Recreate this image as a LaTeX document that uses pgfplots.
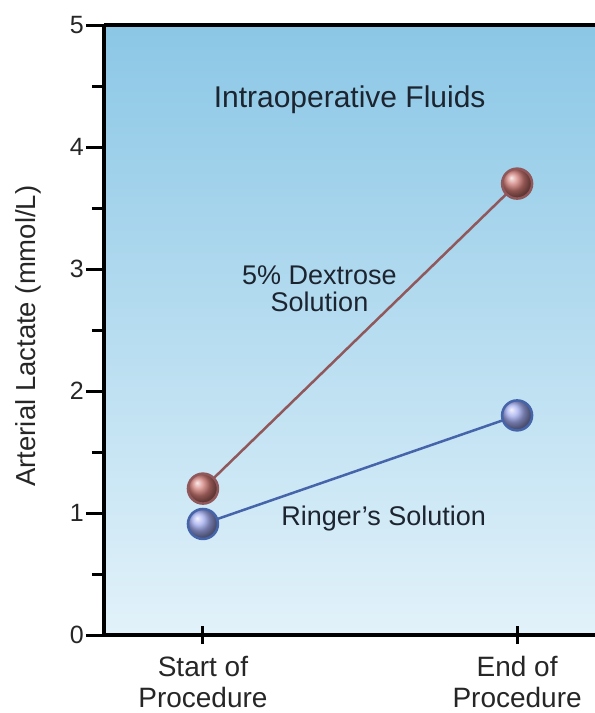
\documentclass[border=0pt]{standalone}
\usepackage{pgfplots}
\pgfplotsset{compat=1.18}
\usepackage{fontspec}
\setmainfont{Liberation Sans}
\definecolor{bgtop}{RGB}{139,199,230}
\definecolor{bgbot}{RGB}{226,242,250}
\definecolor{dexline}{RGB}{145,88,92}
\definecolor{dexball}{RGB}{205,120,115}
\definecolor{ringline}{RGB}{70,100,170}
\definecolor{ringball}{RGB}{160,170,238}
\definecolor{txt}{RGB}{28,36,48}
\begin{document}
\begin{tikzpicture}[x=1pt,y=1pt]
\path[use as bounding box] (0,0) rectangle (595,713);
\begin{axis}[
  at={(104pt,78pt)}, anchor=south west,
  scale only axis, width=491pt, height=610pt,
  xmin=-0.315, xmax=1.248, ymin=0, ymax=5,
  axis x line=box, axis y line=left,
  xtick pos=bottom,
  axis line style={line width=4pt, -},
  axis background/.style={top color=bgtop, bottom color=bgbot},
  xtick={0,1},
  xticklabels={{Start of\\Procedure},{End of\\Procedure}},
  ytick={0,1,2,3,4,5},
  minor y tick num=1,
  major tick length=18pt, minor tick length=12pt,
  tick style={line width=3pt, black},
  ytick align=outside, xtick align=center,
  /pgf/number format/assume math mode=true,
  yticklabel style={font=\fontsize{25}{30}\selectfont, text=black!85, inner sep=2pt},
  xticklabel style={font=\fontsize{28}{31}\selectfont, text=black!85, align=center, inner sep=2pt, yshift=-10pt},
  ylabel={Arterial Lactate (mmol/L)},
  ylabel style={font=\fontsize{27.5}{30}\selectfont, text=black!85, at={(rel axis cs:-0.155,0.49)}, anchor=center},
  clip=false,
]
\addplot[color=dexline, line width=2.5pt, mark=ball, mark size=15pt, mark options={ball color=dexball}]
  coordinates {(0,1.20) (1,3.70)};
\addplot[color=ringline, line width=2.5pt, mark=ball, mark size=15pt, mark options={ball color=ringball}]
  coordinates {(0,0.91) (1,1.80)};
\node[font=\fontsize{30}{34}\selectfont, text=txt] at (axis cs:0.467,4.385) {Intraoperative Fluids};
\node[font=\fontsize{27}{27.5}\selectfont, text=txt, align=center] at (axis cs:0.371,2.836) {5\% Dextrose\\Solution};
\node[font=\fontsize{27}{30}\selectfont, text=txt] at (axis cs:0.575,0.951) {Ringer’s Solution};
\end{axis}
\end{tikzpicture}
\end{document}
